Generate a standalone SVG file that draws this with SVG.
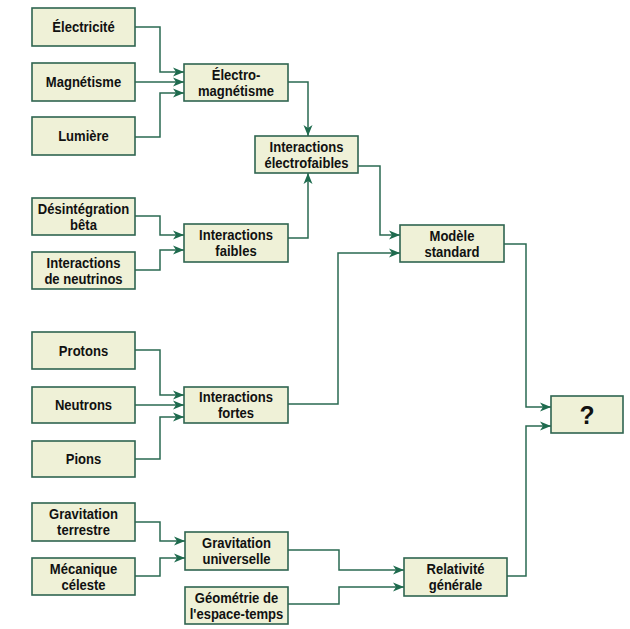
<svg xmlns="http://www.w3.org/2000/svg" width="630" height="629" viewBox="0 0 630 629">
<defs>
<marker id="arr" markerUnits="userSpaceOnUse" markerWidth="12" markerHeight="10" refX="11" refY="5" orient="auto">
<path d="M0,0.5 L11,5 L0,9.5 L3,5 z" fill="#1e6b4e"/>
</marker>
<style>
.box{fill:#eff1d7;stroke:#2f6550;stroke-width:1.6}
.t{font-family:"Liberation Sans",Arial,sans-serif;font-weight:bold;font-size:14.5px;fill:#111;text-anchor:middle}
.q{font-size:26px}
.c{fill:none;stroke:#2a6a52;stroke-width:1.5;marker-end:url(#arr)}
</style>
</defs>
<rect width="630" height="629" fill="#ffffff"/>
<g id="connectors">
<path class="c" d="M135,27 H160 V72 H184"/>
<path class="c" d="M135,82 H184"/>
<path class="c" d="M135,137 H160 V93 H184"/>
<path class="c" d="M288,82 H308 V136"/>
<path class="c" d="M135,216 H160 V235 H184"/>
<path class="c" d="M135,270 H160 V250 H184"/>
<path class="c" d="M288,238 H308 V173"/>
<path class="c" d="M358,166 H380 V235 H400"/>
<path class="c" d="M288,404 H338 V253 H400"/>
<path class="c" d="M135,350 H160 V395 H184"/>
<path class="c" d="M135,405 H184"/>
<path class="c" d="M135,459 H160 V417 H184"/>
<path class="c" d="M135,522 H160 V541 H185"/>
<path class="c" d="M135,576 H160 V558 H185"/>
<path class="c" d="M288,550 H339 V570 H404"/>
<path class="c" d="M288,604 H339 V587 H404"/>
<path class="c" d="M504,244 H526 V407 H551"/>
<path class="c" d="M507,576 H526 V426 H551"/>
</g>
<g id="electricite"><rect class="box" x="32" y="8" width="103" height="38"/><text class="t" transform="translate(83.5,32) scale(0.9,1)">Électricité</text></g>
<g id="magnetisme"><rect class="box" x="32" y="63" width="103" height="38"/><text class="t" transform="translate(83.5,87) scale(0.9,1)">Magnétisme</text></g>
<g id="lumiere"><rect class="box" x="32" y="117" width="103" height="38"/><text class="t" transform="translate(83.5,141) scale(0.9,1)">Lumière</text></g>
<g id="desintegration"><rect class="box" x="32" y="198" width="103" height="37"/><text class="t" transform="translate(83.5,214) scale(0.9,1)">Désintégration</text><text class="t" transform="translate(83.5,230) scale(0.9,1)">bêta</text></g>
<g id="neutrinos"><rect class="box" x="32" y="252" width="103" height="37"/><text class="t" transform="translate(83.5,268) scale(0.9,1)">Interactions</text><text class="t" transform="translate(83.5,284) scale(0.9,1)">de neutrinos</text></g>
<g id="electromagnetisme"><rect class="box" x="184" y="64" width="104" height="37"/><text class="t" transform="translate(236,79.5) scale(0.9,1)">Électro-</text><text class="t" transform="translate(236,95.5) scale(0.9,1)">magnétisme</text></g>
<g id="faibles"><rect class="box" x="184" y="224" width="104" height="38"/><text class="t" transform="translate(236,240) scale(0.9,1)">Interactions</text><text class="t" transform="translate(236,256) scale(0.9,1)">faibles</text></g>
<g id="electrofaibles"><rect class="box" x="255" y="136" width="103" height="37"/><text class="t" transform="translate(306.5,152) scale(0.9,1)">Interactions</text><text class="t" transform="translate(306.5,168) scale(0.9,1)">électrofaibles</text></g>
<g id="modele"><rect class="box" x="400" y="225" width="104" height="37"/><text class="t" transform="translate(452,241) scale(0.9,1)">Modèle</text><text class="t" transform="translate(452,257) scale(0.9,1)">standard</text></g>
<g id="protons"><rect class="box" x="32" y="332" width="103" height="37"/><text class="t" transform="translate(83.5,355.5) scale(0.9,1)">Protons</text></g>
<g id="neutrons"><rect class="box" x="32" y="387" width="103" height="36"/><text class="t" transform="translate(83.5,410) scale(0.9,1)">Neutrons</text></g>
<g id="pions"><rect class="box" x="32" y="441" width="103" height="36"/><text class="t" transform="translate(83.5,464) scale(0.9,1)">Pions</text></g>
<g id="fortes"><rect class="box" x="184" y="387" width="104" height="36"/><text class="t" transform="translate(236,402) scale(0.9,1)">Interactions</text><text class="t" transform="translate(236,418) scale(0.9,1)">fortes</text></g>
<g id="gravterrestre"><rect class="box" x="32" y="503" width="103" height="38"/><text class="t" transform="translate(83.5,519) scale(0.9,1)">Gravitation</text><text class="t" transform="translate(83.5,535) scale(0.9,1)">terrestre</text></g>
<g id="mecanique"><rect class="box" x="32" y="558" width="103" height="37"/><text class="t" transform="translate(83.5,574) scale(0.9,1)">Mécanique</text><text class="t" transform="translate(83.5,590) scale(0.9,1)">céleste</text></g>
<g id="gravuniverselle"><rect class="box" x="185" y="532" width="103" height="38"/><text class="t" transform="translate(236.5,548) scale(0.9,1)">Gravitation</text><text class="t" transform="translate(236.5,564) scale(0.9,1)">universelle</text></g>
<g id="geometrie"><rect class="box" x="185" y="587" width="103" height="37"/><text class="t" transform="translate(236.5,603) scale(0.9,1)">Géométrie de</text><text class="t" transform="translate(236.5,619) scale(0.9,1)">l'espace-temps</text></g>
<g id="relativite"><rect class="box" x="404" y="558" width="103" height="38"/><text class="t" transform="translate(455.5,574) scale(0.9,1)">Relativité</text><text class="t" transform="translate(455.5,590) scale(0.9,1)">générale</text></g>
<g id="inconnu"><rect class="box" x="551" y="396" width="72" height="37"/><text class="t q" transform="translate(587,424) scale(0.95,1)">?</text></g>
</svg>
